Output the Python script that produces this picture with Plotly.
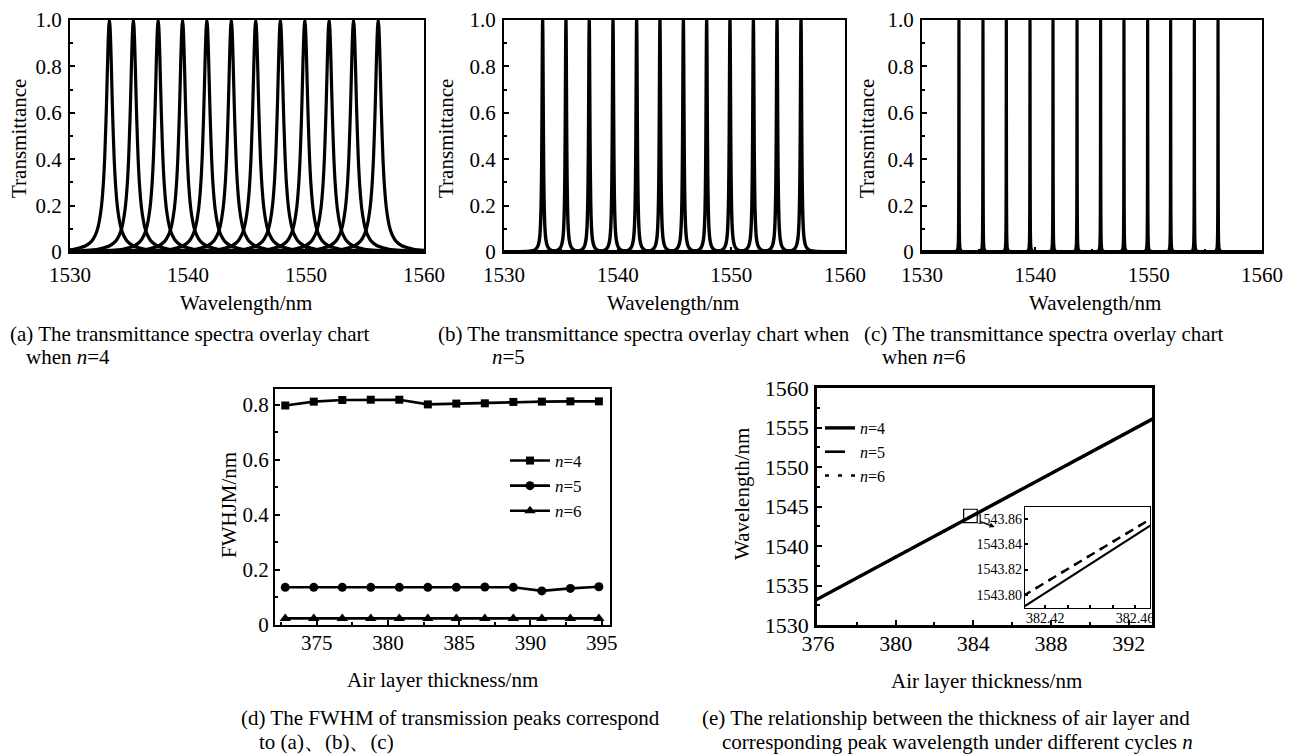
import plotly.graph_objects as go

W, H = 1302, 756          # browser window
OFF = 8                   # default page margin around the plot div
FW, FH = W - OFF, H - OFF # figure size so the figure fills the window
FONT = "Liberation Serif, Times New Roman, serif"

# ---------------- data ----------------
# peak centre wavelengths (nm) of the 12 transmission peaks in panels (a), (b), (c)
peaks_n4 = [1533.34, 1535.37, 1537.47, 1539.54, 1541.60, 1543.67,
            1545.74, 1547.83, 1549.90, 1551.96, 1554.03, 1556.12]
peaks_n5 = [1533.40, 1535.45, 1537.50, 1539.59, 1541.67, 1543.72,
            1545.78, 1547.83, 1549.88, 1551.94, 1554.02, 1556.13]
peaks_n6 = [1533.26, 1535.38, 1537.44, 1539.53, 1541.56, 1543.68,
            1545.76, 1547.82, 1549.91, 1551.94, 1554.03, 1556.12]

# half peak profile: distance from centre (nm) -> transmittance
profile_offset_n4 = [0, 0.05, 0.1, 0.15, 0.2, 0.25, 0.3, 0.4, 0.5, 0.6, 0.7, 0.85,
                     1.0, 1.2, 1.5, 2.0, 2.5, 3.0, 4.0, 6.0, 10.0, 30.0]
profile_T_n4 = [1.0, 0.975, 0.915, 0.83, 0.73, 0.635, 0.55, 0.405, 0.305, 0.235, 0.185, 0.135,
                0.1, 0.072, 0.047, 0.027, 0.018, 0.012, 0.007, 0.003, 0.0012, 0.0002]

profile_offset_n5 = [0, 0.02, 0.04, 0.06, 0.08, 0.1, 0.13, 0.16, 0.2, 0.25, 0.3, 0.4,
                     0.5, 0.7, 1.0, 2.0, 30.0]
profile_T_n5 = [1.0, 0.92, 0.74, 0.56, 0.42, 0.32, 0.215, 0.155, 0.104, 0.069, 0.049, 0.028,
                0.018, 0.009, 0.0046, 0.0012, 0.0001]

profile_offset_n6 = [0, 0.004, 0.008, 0.012, 0.018, 0.025, 0.04, 0.06, 0.1, 0.2, 1.0, 30.0]
profile_T_n6 = [1.0, 0.9, 0.69, 0.5, 0.31, 0.19, 0.083, 0.038, 0.014, 0.0036, 0.0002, 0.0]

# panel (d): FWHM vs air layer thickness
thickness_d = [372.8, 374.8, 376.8, 378.8, 380.8, 382.8, 384.8, 386.8, 388.8, 390.8, 392.8, 394.8]
fwhm_n4 = [0.798, 0.812, 0.818, 0.819, 0.819, 0.802, 0.805, 0.806, 0.811, 0.812, 0.813, 0.813]
fwhm_n5 = [0.137, 0.137, 0.137, 0.137, 0.137, 0.137, 0.137, 0.138, 0.137, 0.124, 0.133, 0.139]
fwhm_n6 = [0.024, 0.024, 0.024, 0.024, 0.024, 0.024, 0.024, 0.024, 0.024, 0.024, 0.024, 0.024]

# panel (e): peak wavelength vs air layer thickness
thickness_e = [374, 376, 378, 380, 382, 384, 386, 388, 390, 392, 394]
peak_wl_n4 = [1530.67, 1533.32, 1535.96, 1538.60, 1541.24, 1543.88, 1546.53, 1549.17, 1551.81, 1554.45, 1557.10]
peak_wl_n5 = [1530.67, 1533.32, 1535.96, 1538.60, 1541.24, 1543.88, 1546.53, 1549.17, 1551.81, 1554.45, 1557.10]
peak_wl_n6 = [1530.67, 1533.32, 1535.96, 1538.60, 1541.24, 1543.88, 1546.53, 1549.17, 1551.81, 1554.45, 1557.10]

# inset of (e)
inset_thickness = [382.41, 382.42, 382.43, 382.44, 382.45, 382.46, 382.47]
inset_wl_n4 = [1543.7900, 1543.8014, 1543.8128, 1543.8243, 1543.8357, 1543.8471, 1543.8586]
inset_wl_n5 = [1543.7989, 1543.8097, 1543.8205, 1543.8312, 1543.8420, 1543.8528, 1543.8635]
inset_wl_n6 = [1543.7989, 1543.8097, 1543.8205, 1543.8312, 1543.8420, 1543.8528, 1543.8635]

# tick labels
spec_xticks = [1530, 1540, 1550, 1560]
spec_yticks = [0, 0.2, 0.4, 0.6, 0.8, 1.0]
spec_yticktext = ["0", "0.2", "0.4", "0.6", "0.8", "1.0"]
d_xticks = [375, 380, 385, 390, 395]
d_yticks = [0, 0.2, 0.4, 0.6, 0.8]
d_yticktext = ["0", "0.2", "0.4", "0.6", "0.8"]
e_xticks = [376, 380, 384, 388, 392]
e_yticks = [1530, 1535, 1540, 1545, 1550, 1555, 1560]
inset_xticks = [382.42, 382.46]
inset_xticktext = ["382.42", "382.46"]
inset_yticks = [1543.80, 1543.82, 1543.84, 1543.86]
inset_yticktext = ["1543.80", "1543.82", "1543.84", "1543.86"]

# marker box on the (e) line, and series names
zoom_box_x = [383.5, 384.2]
zoom_box_y = [1542.95, 1544.65]
series_names = ["<i>n</i>=4", "<i>n</i>=5", "<i>n</i>=6"]


# ---------------- helpers (window pixels -> figure paper coords) ----------------
def px_x(p):
    return (p - OFF) / FW


def px_y(p):
    return 1 - (p - OFF) / FH


def mirrored(centre, offsets, values):
    xs = [centre - o for o in reversed(offsets[1:])] + [centre + o for o in offsets]
    ys = list(reversed(values[1:])) + list(values)
    return xs, ys


def axis_style(size=21, lw=2):
    return dict(showline=True, linecolor="black", linewidth=lw, mirror=True,
                ticks="inside", ticklen=5, tickwidth=1.5, tickcolor="black",
                showgrid=False, zeroline=False, automargin=False, ticklabeloverflow="allow",
                tickfont=dict(family=FONT, size=size, color="black"))


fig = go.Figure()

# ---------------- spectra panels (a), (b), (c) ----------------
spec_panels = [
    ("x", "y", peaks_n4, profile_offset_n4, profile_T_n4, 3.2),
    ("x2", "y2", peaks_n5, profile_offset_n5, profile_T_n5, 3.4),
    ("x3", "y3", peaks_n6, profile_offset_n6, profile_T_n6, 3.2),
]
for xa, ya, peaks, offs, vals, lw in spec_panels:
    for c in peaks:
        xs, ys = mirrored(c, offs, vals)
        fig.add_trace(go.Scatter(x=xs, y=ys, xaxis=xa, yaxis=ya, mode="lines",
                                 line=dict(color="black", width=lw, shape="spline", smoothing=0.6),
                                 showlegend=False, hoverinfo="skip"))

# ---------------- panel (d) ----------------
d_symbols = ["square", "circle", "triangle-up"]
d_sizes = [8, 9, 10]
for name, vals, sym, sz in zip(series_names, [fwhm_n4, fwhm_n5, fwhm_n6], d_symbols, d_sizes):
    fig.add_trace(go.Scatter(x=thickness_d, y=vals, xaxis="x4", yaxis="y4", mode="lines+markers",
                             name=name, line=dict(color="black", width=2.6),
                             marker=dict(symbol=sym, size=sz, color="black"),
                             legend="legend", showlegend=True))

# ---------------- panel (e) ----------------
e_styles = [dict(width=3.4, dash="solid"), dict(width=2.6, dash="20px,10px"), dict(width=2.6, dash="4px,9px")]
for name, vals, st in zip(series_names, [peak_wl_n4, peak_wl_n5, peak_wl_n6], e_styles):
    fig.add_trace(go.Scatter(x=thickness_e, y=vals, xaxis="x5", yaxis="y5", mode="lines",
                             name=name, line=dict(color="black", **st),
                             legend="legend2", showlegend=True))

# inset
inset_styles = [dict(width=2.2, dash="solid"), dict(width=2.4, dash="9px,6px"), dict(width=2.4, dash="3px,12px")]
for vals, st in zip([inset_wl_n4, inset_wl_n5, inset_wl_n6], inset_styles):
    fig.add_trace(go.Scatter(x=inset_thickness, y=vals, xaxis="x6", yaxis="y6", mode="lines",
                             line=dict(color="black", **st), showlegend=False, hoverinfo="skip"))

# ---------------- axes ----------------
a_bot = 252
layout_axes = {}
for i, (l, r, t) in enumerate([(70, 424, 20), (504, 845, 20), (922, 1262, 20)]):
    sx = "" if i == 0 else str(i + 1)
    xa = axis_style()
    xa.update(domain=[px_x(l), px_x(r)], range=[1530, 1560], tickvals=spec_xticks,
              anchor="y" + sx, ticklabelstandoff=3,
              minor=dict(ticks="inside", ticklen=3, tickcolor="black", dtick=5, tick0=1530))
    ya = axis_style()
    ya.update(domain=[px_y(a_bot), px_y(t)], range=[0, 1.0], tickvals=spec_yticks,
              ticktext=spec_yticktext, anchor="x" + sx, ticklabelstandoff=2,
              minor=dict(ticks="inside", ticklen=3, tickcolor="black", dtick=0.1, tick0=0))
    layout_axes["xaxis" + sx] = xa
    layout_axes["yaxis" + sx] = ya

xa = axis_style(lw=2.2)
xa.update(domain=[px_x(275), px_x(610)], range=[372.08, 395.58], tickvals=d_xticks, anchor="y4",
          ticklabelstandoff=-2,
          minor=dict(ticks="inside", ticklen=3, tickcolor="black", dtick=2.5, tick0=375))
ya = axis_style(lw=2.2)
ya.update(domain=[px_y(625), px_y(389)], range=[0, 0.858], tickvals=d_yticks, ticktext=d_yticktext,
          anchor="x4", minor=dict(ticks="inside", ticklen=3, tickcolor="black", dtick=0.1, tick0=0))
layout_axes["xaxis4"] = xa
layout_axes["yaxis4"] = ya

xa = axis_style(size=22, lw=2.8)
xa.update(domain=[px_x(817), px_x(1152)], range=[375.95, 393.2], tickvals=e_xticks, anchor="y5",
          ticklabelstandoff=-3,
          minor=dict(ticks="inside", ticklen=3, tickcolor="black", dtick=2, tick0=376))
ya = axis_style(size=22, lw=2.8)
ya.update(domain=[px_y(625), px_y(388)], range=[1530, 1560], tickvals=e_yticks, anchor="x5",
          ticklabelstandoff=1,
          minor=dict(ticks="inside", ticklen=3, tickcolor="black", dtick=2.5, tick0=1530))
layout_axes["xaxis5"] = xa
layout_axes["yaxis5"] = ya

xa = axis_style(size=14, lw=1.2)
xa.update(domain=[px_x(1025), px_x(1150)], range=[382.411, 382.4667], tickvals=inset_xticks,
          ticktext=inset_xticktext, anchor="y6", ticklen=3, ticklabelstandoff=-3,
          minor=dict(ticks="inside", ticklen=3, tickcolor="black", dtick=0.01, tick0=382.42))
ya = axis_style(size=14, lw=1.2)
ya.update(domain=[px_y(608), px_y(507)], range=[1543.7895, 1543.8697], tickvals=inset_yticks,
          ticktext=inset_yticktext, anchor="x6", ticklen=3, ticklabelstandoff=-1)
layout_axes["xaxis6"] = xa
layout_axes["yaxis6"] = ya

# ---------------- text ----------------
annotations = []


def text(t, x, y, size=21, xanchor="center", angle=0):
    annotations.append(dict(text=t, x=px_x(x), y=px_y(y), xref="paper", yref="paper",
                            xanchor=xanchor, yanchor="middle", showarrow=False, textangle=angle,
                            font=dict(family=FONT, size=size, color="black")))


# axis titles
for cx, cy in [(19, 139), (446, 139), (867, 139)]:
    text("Transmittance", cx, cy, angle=-90)
for cx in [246, 673, 1095]:
    text("Wavelength/nm", cx, 303)
text("FWHJM/nm", 229, 505, angle=-90)
text("Wavelength/nm", 742, 494, angle=-90)
text("Air layer thickness/nm", 443, 680)
text("Air layer thickness/nm", 986, 681)

# captions
text("(a) The transmittance spectra overlay chart", 8, 334, xanchor="left")
text("when <i>n</i>=4", 24, 357, xanchor="left")
text("(b) The transmittance spectra overlay chart when", 436, 334, xanchor="left")
text("<i>n</i>=5", 490, 357, xanchor="left")
text("(c) The transmittance spectra overlay chart", 862, 334, xanchor="left")
text("when <i>n</i>=6", 880, 357, xanchor="left")
text("(d) The FWHM of transmission peaks correspond", 239, 718, xanchor="left")
text("to (a)、(b)、(c)", 257, 742, xanchor="left")
text("(e) The relationship between the thickness of air layer and", 700, 718, xanchor="left")
text("corresponding peak wavelength under different cycles <i>n</i>", 720, 742, xanchor="left")

# arrow from the box to the inset
annotations.append(dict(x=385.1, y=1542.4, xref="x5", yref="y5", ax=384.25, ay=1543.2,
                        axref="x5", ayref="y5", text="", showarrow=True, arrowhead=2,
                        arrowsize=0.8, arrowwidth=1.3, arrowcolor="black"))

shapes = [dict(type="rect", xref="x5", yref="y5", x0=zoom_box_x[0], x1=zoom_box_x[1],
               y0=zoom_box_y[0], y1=zoom_box_y[1], line=dict(color="black", width=1.2))]

fig.update_layout(
    template="none",
    width=FW, height=FH, autosize=False,
    margin=dict(l=0, r=0, t=0, b=0, autoexpand=False),
    paper_bgcolor="white", plot_bgcolor="white",
    font=dict(family=FONT, color="black"),
    annotations=annotations, shapes=shapes,
    legend=dict(x=px_x(505), y=px_y(443), xanchor="left", yanchor="top",
                bgcolor="rgba(0,0,0,0)", font=dict(family=FONT, size=17, color="black"),
                itemwidth=40, tracegroupgap=0),
    legend2=dict(x=px_x(820), y=px_y(411), xanchor="left", yanchor="top",
                 bgcolor="rgba(0,0,0,0)", font=dict(family=FONT, size=16, color="black"),
                 itemwidth=30, tracegroupgap=0),
    **layout_axes,
)

fig.write_html("out.html")
